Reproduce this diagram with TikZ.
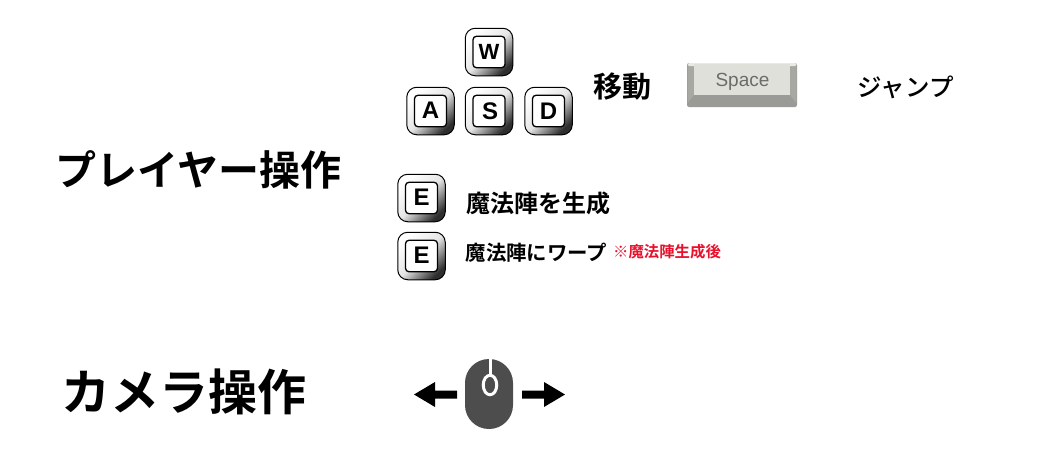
\documentclass[tikz,border=0pt]{standalone}
\usepackage{fontspec}
\usetikzlibrary{shapes.geometric}
\newfontfamily\cjk[BoldFont={Noto Sans CJK JP Bold}]{Noto Sans CJK JP}
\newfontfamily\cjkmed{Noto Sans CJK JP Medium}
\setmainfont{Liberation Sans}
\definecolor{redtxt}{HTML}{E8112D}
\definecolor{mousegray}{HTML}{4D4D4D}
\definecolor{facegray}{HTML}{E0E0DA}
\definecolor{sidegray}{HTML}{A8A8A3}
\definecolor{botgray}{HTML}{9A9A96}
\tikzset{
  keyouter/.style={draw=black,line width=1pt,rounded corners=10pt,minimum width=47.5pt,minimum height=47.5pt,inner sep=0pt,shading=axis,left color=white,right color=black!82,middle color=white!90!black,shading angle=45},
  keyinner/.style={draw=black,line width=1.3pt,rounded corners=3.5pt,fill=white,minimum width=32pt,minimum height=31.5pt,inner sep=0pt,font=\bfseries\fontsize{24}{24}\selectfont},
  lbl/.style={inner sep=0pt,text=black,font=\cjk\bfseries},
  arrowshape/.style={fill=black,draw=none}
}
\begin{document}
\begin{tikzpicture}[x=1pt,y=-1pt]
\useasboundingbox (0,0) rectangle (1054,469);
% keys
\node[keyouter] (wo) at (489,52) {};
\node[keyinner,font=\bfseries\fontsize{22}{22}\selectfont] (wi) at (489,52) {W};
\node[keyouter] (ao) at (430.5,111) {};
\node[keyinner] (ai) at (430.5,111) {\raisebox{1pt}{A}};
\node[keyouter] (so) at (489,111) {};
\node[keyinner] (si) at (489,111) {\hspace{2pt}S};
\node[keyouter] (do) at (548.5,111) {};
\node[keyinner] (di) at (548.5,111) {D};
\node[keyouter] (eo) at (421.5,198) {};
\node[keyinner] (ei) at (421.5,198) {\raisebox{1pt}{E}};
\node[keyouter] (fo) at (421.5,256) {};
\node[keyinner] (fi) at (421.5,256) {\raisebox{1pt}{E}};
% labels
\node[lbl,anchor=center,font=\cjk\bfseries\fontsize{41}{41}\selectfont] (player) at (198.5,170) {プレイヤー操作};
\node[lbl,anchor=center,font=\cjk\bfseries\fontsize{49}{49}\selectfont] (camera) at (184,392) {カメラ操作};
\node[lbl,font=\cjk\bfseries\fontsize{29}{29}\selectfont] (move) at (622,87) {移動};
\node[lbl,font=\cjkmed\fontsize{24.5}{25}\selectfont] (jump) at (905.5,87) {ジャンプ};
\node[lbl,font=\cjk\bfseries\fontsize{24}{24}\selectfont] (gen) at (538,203) {魔法陣を生成};
\node[lbl,font=\cjk\bfseries\fontsize{20.4}{21}\selectfont] (warp) at (536.5,253) {魔法陣にワープ};
\node[lbl,text=redtxt,font=\cjk\bfseries\fontsize{15.4}{16}\selectfont] (note) at (667,252) {※魔法陣生成後};
% space key
\fill[botgray,rounded corners=2pt] (687,63) rectangle (797,107);
\fill[sidegray] (687.5,65) -- (694,65) -- (694,95) -- (687.5,103) -- cycle;
\fill[sidegray] (796.5,65) -- (790,65) -- (790,95) -- (796.5,103) -- cycle;
\fill[facegray!70!white,rounded corners=1.5pt] (687.5,63) rectangle (796.5,66);
\node[fill=facegray,minimum width=96pt,minimum height=31pt,inner sep=0pt] (spaceface) at (742,79.5) {};
\node[inner sep=0pt,text=black!58,font=\fontsize{19}{19}\selectfont] (spacetext) at (742.5,81.5) {Space};
% mouse
\node[fill=mousegray,rounded corners=23.9pt,minimum width=48pt,minimum height=70pt,inner sep=0pt] (mouse) at (489,394) {};
\coordinate (stemtop) at (490,359);
\node[draw=white,line width=3pt,ellipse,minimum width=13.5pt,minimum height=19.5pt,inner sep=0pt] (wheel) at (490,385) {};
\draw[white,line width=3pt] (stemtop) -- (wheel.north);
% arrows
\fill[arrowshape] (414,394.5) -- (435,382) -- (435,390.5) -- (457,390.5) -- (457,398.5) -- (435,398.5) -- (435,407) -- cycle;
\fill[arrowshape] (565,394.5) -- (544,382) -- (544,390.5) -- (522,390.5) -- (522,398.5) -- (544,398.5) -- (544,407) -- cycle;
\end{tikzpicture}
\end{document}
